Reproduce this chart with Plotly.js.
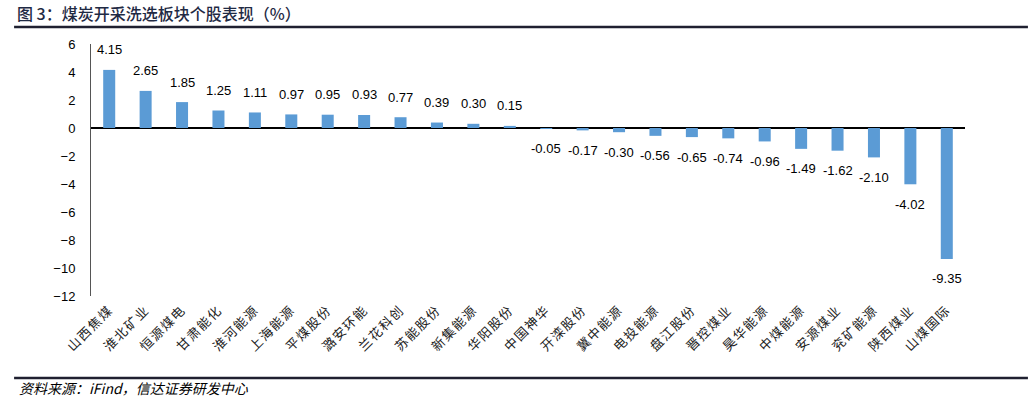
<!DOCTYPE html>
<html>
<head>
<meta charset="utf-8">
<script src="https://cdn.plot.ly/plotly-3.0.1.min.js"></script>
<style>
  body { margin: 0; background: #fff; }
  #graph-container { width: 1031px; height: 403px; }
  .xtick text { letter-spacing: 1.5px; }
</style>
</head>
<body>
<div id="graph-container"></div>
<script>
var societes = ["山西焦煤", "淮北矿业", "恒源煤电", "甘肃能化", "淮河能源", "上海能源",
  "平煤股份", "潞安环能", "兰花科创", "苏能股份", "新集能源", "华阳股份",
  "中国神华", "开滦股份", "冀中能源", "电投能源", "盘江股份", "晋控煤业",
  "昊华能源", "中煤能源", "安源煤业", "兖矿能源", "陕西煤业", "山煤国际"];
var perf = [4.15, 2.65, 1.85, 1.25, 1.11, 0.97, 0.95, 0.93, 0.77, 0.39, 0.30, 0.15,
  -0.05, -0.17, -0.30, -0.56, -0.65, -0.74, -0.96, -1.49, -1.62, -2.10, -4.02, -9.35];
var yTicks = [6, 4, 2, 0, -2, -4, -6, -8, -10, -12];

var titre = "图 3：煤炭开采洗选板块个股表现（%）";
var source = "<i>资料来源：iFind，信达证券研发中心</i>";

var data = [{
  type: 'bar',
  x: societes,
  y: perf,
  marker: { color: '#5B9BD5' },
  hoverinfo: 'x+y'
}];

// etiquettes des valeurs, au-dessus ou en dessous de chaque barre
var notes = [];
for (var i = 0; i < perf.length; i++) {
  notes.push({
    x: societes[i], y: perf[i], xref: 'x', yref: 'y',
    text: perf[i].toFixed(2), showarrow: false,
    yshift: perf[i] >= 0 ? 20 : -20,
    font: { family: 'Liberation Sans, Arial', size: 13, color: '#000' }
  });
}
notes.push({
  xref: 'paper', yref: 'paper', x: -0.087, y: 1.123, xanchor: 'left', yanchor: 'middle',
  text: titre, showarrow: false,
  font: { family: 'Noto Sans CJK SC', size: 16, weight: 500, color: '#1f2a44' }
});
notes.push({
  xref: 'paper', yref: 'paper', x: -0.085, y: -0.365, xanchor: 'left', yanchor: 'middle',
  text: source, showarrow: false,
  font: { family: 'Noto Sans CJK SC, Liberation Sans', size: 14, color: '#000' }
});

var layout = {
  width: 1031, height: 403,
  margin: { l: 91, r: 66, t: 44, b: 107 },
  paper_bgcolor: '#fff', plot_bgcolor: '#fff',
  showlegend: false,
  bargap: 0.67,
  xaxis: {
    type: 'category',
    tickangle: -45,
    showgrid: false, zeroline: false, showline: false,
    ticks: '', ticklabelstandoff: 3,
    tickfont: { family: 'Noto Sans CJK SC', size: 13, color: '#222' }
  },
  yaxis: {
    range: [-12, 6],
    tickvals: yTicks,
    showgrid: false,
    zeroline: true, zerolinecolor: '#000', zerolinewidth: 1.5,
    showline: true, linecolor: '#555', linewidth: 1,
    ticks: '', ticklabelstandoff: 12,
    tickfont: { family: 'Liberation Sans, Arial', size: 13, color: '#000' }
  },
  annotations: notes,
  shapes: [
    { type: 'line', xref: 'paper', yref: 'paper', x0: -0.088, x1: 1.072, y0: 1.0675, y1: 1.0675,
      line: { color: '#1f2030', width: 2.5 } },
    { type: 'line', xref: 'paper', yref: 'paper', x0: -0.088, x1: 1.072, y0: -0.3254, y1: -0.3254,
      line: { color: '#1f2030', width: 2.5 } }
  ]
};

Plotly.newPlot(document.getElementById('graph-container'), data, layout, { displayModeBar: false });
</script>
</body>
</html>
